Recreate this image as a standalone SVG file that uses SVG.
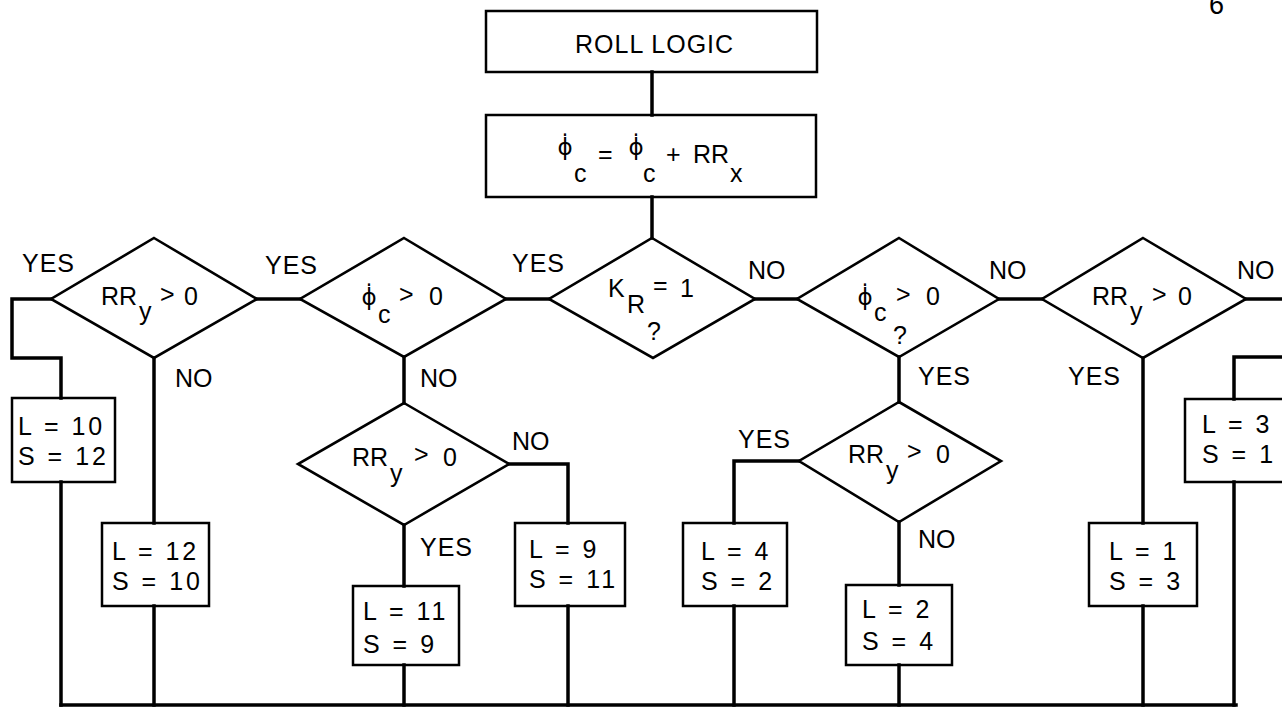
<svg xmlns="http://www.w3.org/2000/svg" width="1282" height="707" viewBox="0 0 1282 707">
<style>
  .bg { fill: #ffffff; }
  .box { fill: none; stroke: #000; stroke-width: 2.5; }
  .dia { fill: none; stroke: #000; stroke-width: 2.6; stroke-linejoin: miter; }
  .conn { fill: none; stroke: #000; stroke-width: 3.5; stroke-linejoin: miter; stroke-linecap: square; }
  text { font-family: "Liberation Sans", Arial, sans-serif; font-size: 25px; fill: #000; }
  .lbl { letter-spacing: 1px; }
  .val { letter-spacing: 3px; }
  .phi { font-family: "DejaVu Sans", "Liberation Sans", sans-serif; font-size: 23px; text-anchor: middle; }
</style>
<rect class="bg" x="0" y="0" width="1282" height="707"/>

<text x="1209" y="14" style="font-size:27px">6</text>

<g id="connectors">
  <path class="conn" d="M652,72 V115"/>
  <path class="conn" d="M652,197 V238"/>
  <path class="conn" d="M549,299 H506"/>
  <path class="conn" d="M300,299 H257"/>
  <path class="conn" d="M51,299 H12 V358 H61 V398"/>
  <path class="conn" d="M61,482 V705"/>
  <path class="conn" d="M154,358 V523"/>
  <path class="conn" d="M154,606 V705"/>
  <path class="conn" d="M404,357 V403"/>
  <path class="conn" d="M404,525 V586"/>
  <path class="conn" d="M404,665 V705"/>
  <path class="conn" d="M509,464 H568 V523"/>
  <path class="conn" d="M568,606 V705"/>
  <path class="conn" d="M755,299 H797"/>
  <path class="conn" d="M999,299 H1042"/>
  <path class="conn" d="M1246,299 H1292 V357 H1234 V399"/>
  <path class="conn" d="M1234,482 V705"/>
  <path class="conn" d="M899,357 V402"/>
  <path class="conn" d="M899,522 V585"/>
  <path class="conn" d="M899,665 V705"/>
  <path class="conn" d="M799,461 H734 V523"/>
  <path class="conn" d="M734,606 V705"/>
  <path class="conn" d="M1143,358 V523"/>
  <path class="conn" d="M1143,606 V705"/>
  <path class="conn" d="M61,705 H1236"/>
</g>

<g id="roll_logic">
  <rect class="box" x="486" y="11" width="331" height="61"/>
  <text x="575" y="53" class="lbl">ROLL LOGIC</text>
</g>

<g id="update_phi">
  <rect class="box" x="486" y="115" width="330" height="82"/>
  <text x="565" y="155" class="phi">ϕ̇</text>
  <text x="574" y="182">c</text>
  <text x="598" y="163">=</text>
  <text x="636" y="155" class="phi">ϕ̇</text>
  <text x="643" y="182">c</text>
  <text x="666" y="163">+</text>
  <text x="693" y="163">RR</text>
  <text x="730" y="182">x</text>
</g>

<g id="kr_decision">
  <polygon class="dia" points="652,238 755,299 653,358 549,299"/>
  <text x="608" y="297">K</text>
  <text x="627" y="313">R</text>
  <text x="653" y="294">=</text>
  <text x="680" y="297">1</text>
  <text x="647" y="340">?</text>
</g>

<g id="phic_left">
  <polygon class="dia" points="404,238 506,299 404,357 300,299"/>
  <text x="369" y="305" class="phi">ϕ̇</text>
  <text x="378" y="323">c</text>
  <text x="399" y="303">&gt;</text>
  <text x="429" y="305">0</text>
</g>

<g id="rry_left">
  <polygon class="dia" points="154,238 257,299 154,358 51,299"/>
  <text x="101" y="305">RR</text>
  <text x="139" y="320">y</text>
  <text x="160" y="303">&gt;</text>
  <text x="184" y="305">0</text>
</g>

<g id="phic_right">
  <polygon class="dia" points="899,238 999,299 899,357 797,299"/>
  <text x="865" y="305" class="phi">ϕ̇</text>
  <text x="874" y="321">c</text>
  <text x="896" y="303">&gt;</text>
  <text x="926" y="305">0</text>
  <text x="893" y="344">?</text>
</g>

<g id="rry_right">
  <polygon class="dia" points="1143,238 1246,299 1143,358 1042,299"/>
  <text x="1092" y="305">RR</text>
  <text x="1130" y="320">y</text>
  <text x="1152" y="303">&gt;</text>
  <text x="1178" y="305">0</text>
</g>

<g id="rry_sub_left">
  <polygon class="dia" points="404,403 509,464 404,525 298,464"/>
  <text x="352" y="466">RR</text>
  <text x="390" y="482">y</text>
  <text x="414" y="463">&gt;</text>
  <text x="443" y="466">0</text>
</g>

<g id="rry_sub_right">
  <polygon class="dia" points="899,402 1001,461 899,522 799,461"/>
  <text x="848" y="463">RR</text>
  <text x="886" y="479">y</text>
  <text x="907" y="460">&gt;</text>
  <text x="936" y="463">0</text>
</g>

<g id="labels">
  <text x="22" y="272" class="lbl">YES</text>
  <text x="265" y="274" class="lbl">YES</text>
  <text x="512" y="272" class="lbl">YES</text>
  <text x="748" y="279">NO</text>
  <text x="989" y="279">NO</text>
  <text x="1237" y="279">NO</text>
  <text x="175" y="387">NO</text>
  <text x="420" y="387">NO</text>
  <text x="512" y="450">NO</text>
  <text x="420" y="556" class="lbl">YES</text>
  <text x="918" y="385" class="lbl">YES</text>
  <text x="1068" y="385" class="lbl">YES</text>
  <text x="738" y="448" class="lbl">YES</text>
  <text x="918" y="548">NO</text>
</g>

<g id="box_l10">
  <rect class="box" x="12" y="398" width="103" height="84"/>
  <text x="18" y="435" class="val">L = 10</text>
  <text x="18" y="465" class="val">S = 12</text>
</g>
<g id="box_l12">
  <rect class="box" x="102" y="523" width="107" height="83"/>
  <text x="112" y="560" class="val">L = 12</text>
  <text x="112" y="590" class="val">S = 10</text>
</g>
<g id="box_l11">
  <rect class="box" x="353" y="586" width="106" height="79"/>
  <text x="363" y="620" class="val">L = 11</text>
  <text x="363" y="653" class="val">S = 9</text>
</g>
<g id="box_l9">
  <rect class="box" x="515" y="523" width="110" height="83"/>
  <text x="529" y="558" class="val">L = 9</text>
  <text x="529" y="588" class="val">S = 11</text>
</g>
<g id="box_l4">
  <rect class="box" x="683" y="523" width="104" height="83"/>
  <text x="701" y="560" class="val">L = 4</text>
  <text x="701" y="590" class="val">S = 2</text>
</g>
<g id="box_l2">
  <rect class="box" x="846" y="585" width="106" height="80"/>
  <text x="862" y="618" class="val">L = 2</text>
  <text x="862" y="650" class="val">S = 4</text>
</g>
<g id="box_l1">
  <rect class="box" x="1089" y="523" width="108" height="83"/>
  <text x="1109" y="560" class="val">L = 1</text>
  <text x="1109" y="590" class="val">S = 3</text>
</g>
<g id="box_l3">
  <rect class="box" x="1185" y="399" width="110" height="83"/>
  <text x="1202" y="433" class="val">L = 3</text>
  <text x="1202" y="463" class="val">S = 1</text>
</g>
</svg>
